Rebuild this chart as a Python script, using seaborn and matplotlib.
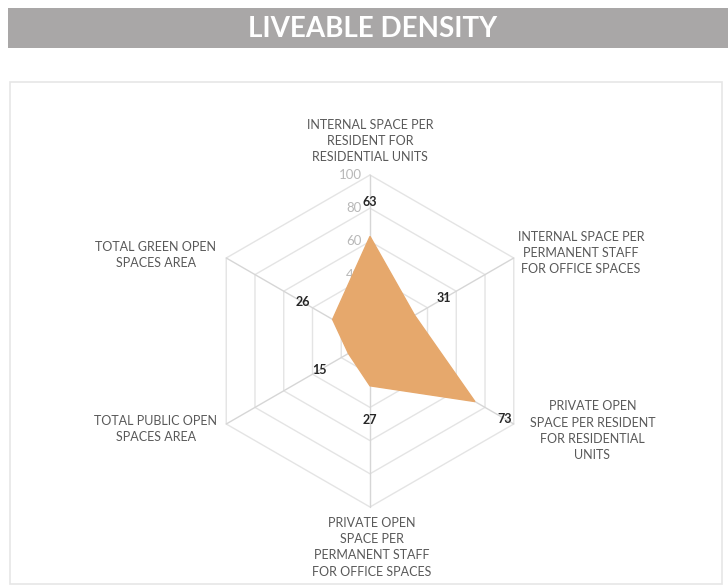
import matplotlib
matplotlib.use("Agg")
import matplotlib.pyplot as plt
import numpy as np
import seaborn as sns
from matplotlib.patches import Rectangle

# data
categories = ["INTERNAL SPACE PER\nRESIDENT FOR\nRESIDENTIAL UNITS",
              "INTERNAL SPACE PER\nPERMANENT STAFF\nFOR OFFICE SPACES",
              "PRIVATE OPEN\nSPACE PER RESIDENT\nFOR RESIDENTIAL\nUNITS",
              "PRIVATE OPEN\nSPACE PER\nPERMANENT STAFF\nFOR OFFICE SPACES",
              "TOTAL PUBLIC OPEN\nSPACES AREA",
              "TOTAL GREEN OPEN\nSPACES AREA"]
values = [63, 31, 73, 27, 15, 26]
ticks = [20, 40, 60, 80, 100]
title = "LIVEABLE DENSITY"

sns.set_style("white")
plt.rcParams["font.family"] = ["Lato", "DejaVu Sans"]

W, H = 728, 587
fig = plt.figure(figsize=(W / 100, H / 100), dpi=100)

# title bar + chart frame in figure coords
fig.patches.append(Rectangle((8 / W, 1 - 48 / H), 1, 40 / H, transform=fig.transFigure,
                             facecolor="#a9a7a7", edgecolor="none", zorder=-2))
fig.text(373 / W, 1 - 29 / H, title, color="white", fontsize=20, fontweight="bold",
         ha="center", va="center")
fig.patches.append(Rectangle((10 / W, 1 - 584 / H), 712 / W, 502 / H, transform=fig.transFigure,
                             facecolor="none", edgecolor="#e6e6e6", lw=1.2, zorder=-2))

# axes: 100 units = 166 px, centre at (370, 341)
cx, cy, s = 370, 341, 1.66
ax = fig.add_axes([0, 0, 1, 1])
ax.set_xlim(-cx / s, (W - cx) / s)
ax.set_ylim(-(H - cy) / s, cy / s)
ax.set_aspect("equal")
ax.axis("off")
ax.patch.set_alpha(0)

n = len(values)
ang = np.deg2rad(90 - np.arange(n) * 360 / n)
ux, uy = np.cos(ang), np.sin(ang)

# grid rings and spokes
for t in ticks:
    ax.plot(np.append(ux, ux[0]) * t, np.append(uy, uy[0]) * t, color="#e4e4e4", lw=1, zorder=1)
for i in range(n):
    ax.plot([0, ux[i] * 100], [0, uy[i] * 100], color="#d6d6d6", lw=1, zorder=1)

# tick labels on top spoke
for t in ticks:
    ax.text(-5, t, str(t), ha="right", va="center", color="#b8b8b8", fontsize=9.5, zorder=2)

# data polygon
v = np.array(values)
ax.fill(ux * v, uy * v, color="#e6a86c", edgecolor="#e6a86c", lw=1, zorder=3)

# value labels
for i in range(n):
    r = values[i] + 20.5
    ax.text(ux[i] * r, uy[i] * r, str(values[i]), ha="center", va="center",
            fontsize=9, fontweight="bold", color="#262626", zorder=4)

# category labels
lab_pos = [(0, 107, "center", "bottom"),
           (127, 53, "center", "center"),
           (134, -54, "center", "center"),
           (1, -106, "center", "top"),
           (-129, -53, "center", "center"),
           (-129, 52, "center", "center")]
for (x, y, ha, va), c in zip(lab_pos, categories):
    ax.text(x, y, c, ha=ha, va=va, multialignment="center", fontsize=9,
            color="#595959", linespacing=1.42, zorder=4)

fig.savefig("out.png", dpi=100)
